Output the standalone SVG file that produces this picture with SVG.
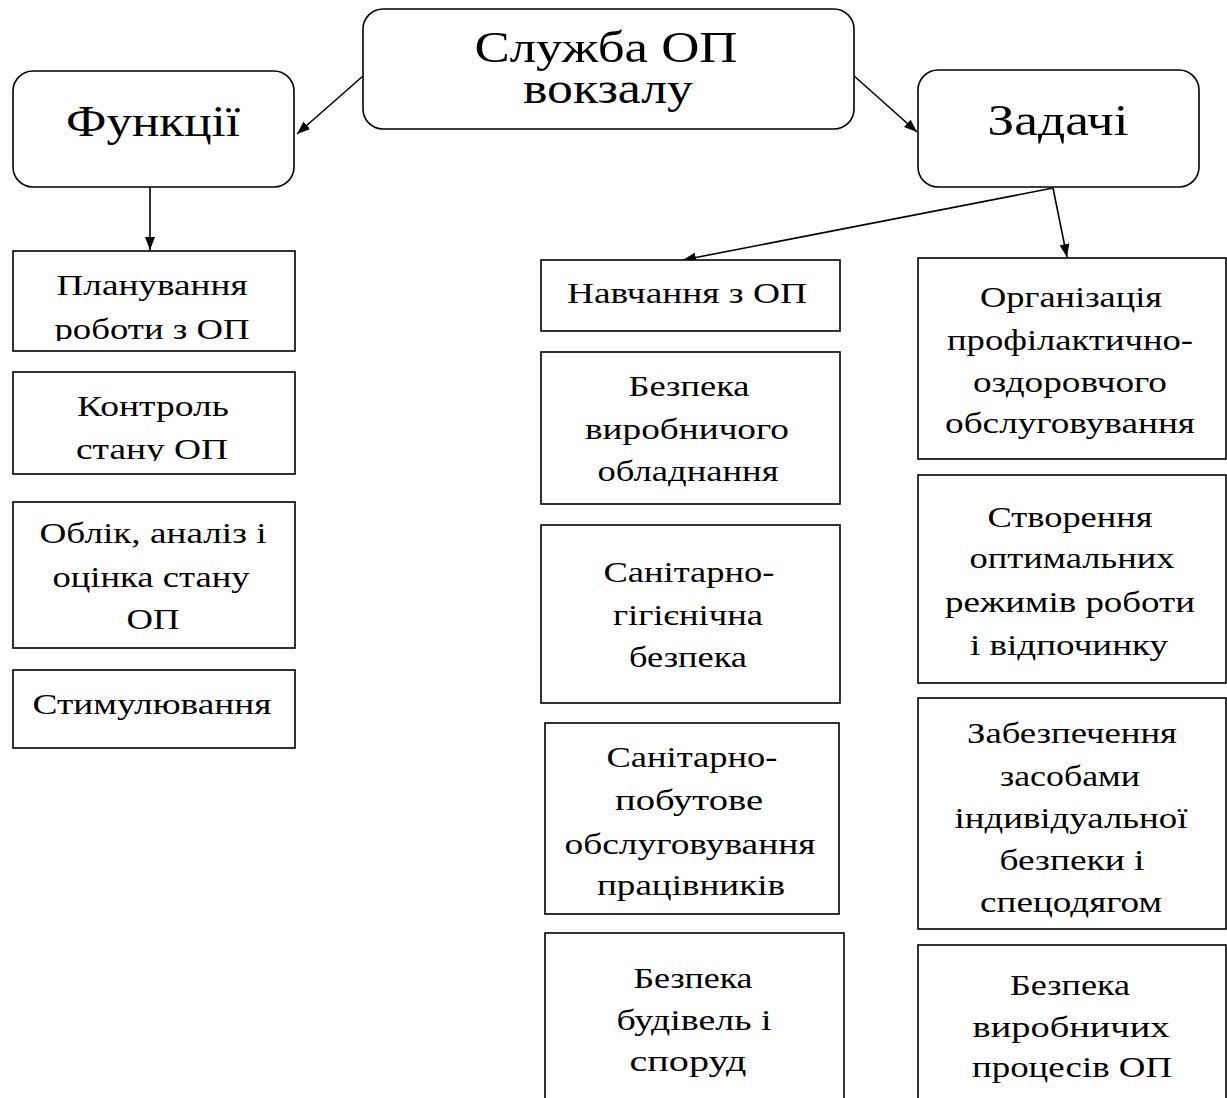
<svg xmlns="http://www.w3.org/2000/svg" width="1227" height="1098" viewBox="0 0 1227 1098">
<style>
.box{fill:#fff;stroke:#000;stroke-width:1.6}
.rbox{fill:#fff;stroke:#000;stroke-width:1.6}
.t{font-family:"Liberation Serif","DejaVu Serif",serif;font-size:30px;fill:#000;text-anchor:middle}
.tb{font-family:"Liberation Serif","DejaVu Serif",serif;font-size:44px;fill:#000;text-anchor:middle}
.c{fill:none;stroke:#000;stroke-width:1.6}
</style>
<defs>
<marker id="ah" markerUnits="userSpaceOnUse" markerWidth="14" markerHeight="10" refX="13" refY="5" orient="auto">
<path d="M0,0 L13,5 L0,10 z" fill="#000"/>
</marker>
<clipPath id="cl1"><rect x="13" y="251" width="282" height="90"/></clipPath>
<clipPath id="cl2"><rect x="13" y="372" width="282" height="89"/></clipPath>
</defs>
<rect width="1227" height="1098" fill="#fff"/>

<g id="connectors">
<line class="c" x1="363" y1="76" x2="297" y2="134" marker-end="url(#ah)"/>
<line class="c" x1="853" y1="75" x2="917" y2="132" marker-end="url(#ah)"/>
<line class="c" x1="150" y1="187" x2="150" y2="250" marker-end="url(#ah)"/>
<line class="c" x1="1053" y1="188" x2="683" y2="260" marker-end="url(#ah)"/>
<line class="c" x1="1053" y1="188" x2="1067" y2="257" marker-end="url(#ah)"/>
</g>

<g id="n-sluzhba">
<rect class="rbox" x="363" y="9" width="491" height="120" rx="20"/>
<text class="tb"><tspan x="606" y="62" textLength="263" lengthAdjust="spacingAndGlyphs">Служба ОП</tspan><tspan x="608" y="103" textLength="170" lengthAdjust="spacingAndGlyphs">вокзалу</tspan></text>
</g>

<g id="n-funktsii">
<rect class="rbox" x="13" y="71" width="281" height="116" rx="20"/>
<text class="tb"><tspan x="153" y="136" textLength="174" lengthAdjust="spacingAndGlyphs">Функції</tspan></text>
</g>

<g id="n-zadachi">
<rect class="rbox" x="918" y="70" width="281" height="117" rx="20"/>
<text class="tb"><tspan x="1058" y="135" textLength="141" lengthAdjust="spacingAndGlyphs">Задачі</tspan></text>
</g>

<g id="n-planuvannia">
<rect class="box" x="13" y="251" width="282" height="100"/>
<text class="t" clip-path="url(#cl1)"><tspan x="152" y="295" textLength="191" lengthAdjust="spacingAndGlyphs">Планування</tspan><tspan x="152" y="339" textLength="195" lengthAdjust="spacingAndGlyphs">роботи з ОП</tspan></text>
</g>

<g id="n-kontrol">
<rect class="box" x="13" y="372" width="282" height="102"/>
<text class="t" clip-path="url(#cl2)"><tspan x="153" y="416" textLength="152" lengthAdjust="spacingAndGlyphs">Контроль</tspan><tspan x="152" y="459" textLength="152" lengthAdjust="spacingAndGlyphs">стану ОП</tspan></text>
</g>

<g id="n-oblik">
<rect class="box" x="13" y="502" width="282" height="146"/>
<text class="t"><tspan x="153" y="543" textLength="227" lengthAdjust="spacingAndGlyphs">Облік, аналіз і</tspan><tspan x="151" y="587" textLength="197" lengthAdjust="spacingAndGlyphs">оцінка стану</tspan><tspan x="153" y="629" textLength="53" lengthAdjust="spacingAndGlyphs">ОП</tspan></text>
</g>

<g id="n-stymuliuvannia">
<rect class="box" x="13" y="670" width="282" height="78"/>
<text class="t"><tspan x="152" y="714" textLength="239" lengthAdjust="spacingAndGlyphs">Стимулювання</tspan></text>
</g>

<g id="n-navchannia">
<rect class="box" x="541" y="260" width="299" height="71"/>
<text class="t"><tspan x="687" y="303" textLength="240" lengthAdjust="spacingAndGlyphs">Навчання з ОП</tspan></text>
</g>

<g id="n-bezpeka-obladnannia">
<rect class="box" x="541" y="352" width="299" height="152"/>
<text class="t"><tspan x="689" y="396" textLength="121" lengthAdjust="spacingAndGlyphs">Безпека</tspan><tspan x="687" y="439" textLength="204" lengthAdjust="spacingAndGlyphs">виробничого</tspan><tspan x="688" y="481" textLength="181" lengthAdjust="spacingAndGlyphs">обладнання</tspan></text>
</g>

<g id="n-sanitarno-hihienichna">
<rect class="box" x="541" y="525" width="299" height="178"/>
<text class="t"><tspan x="689" y="582" textLength="171" lengthAdjust="spacingAndGlyphs">Санітарно-</tspan><tspan x="688" y="625" textLength="150" lengthAdjust="spacingAndGlyphs">гігієнічна</tspan><tspan x="688" y="667" textLength="118" lengthAdjust="spacingAndGlyphs">безпека</tspan></text>
</g>

<g id="n-sanitarno-pobutove">
<rect class="box" x="545" y="723" width="294" height="191"/>
<text class="t"><tspan x="692" y="767" textLength="171" lengthAdjust="spacingAndGlyphs">Санітарно-</tspan><tspan x="689" y="810" textLength="148" lengthAdjust="spacingAndGlyphs">побутове</tspan><tspan x="690" y="854" textLength="251" lengthAdjust="spacingAndGlyphs">обслуговування</tspan><tspan x="691" y="895" textLength="188" lengthAdjust="spacingAndGlyphs">працівників</tspan></text>
</g>

<g id="n-bezpeka-budivel">
<rect class="box" x="545" y="933" width="299" height="180"/>
<text class="t"><tspan x="693" y="988" textLength="119" lengthAdjust="spacingAndGlyphs">Безпека</tspan><tspan x="694" y="1030" textLength="155" lengthAdjust="spacingAndGlyphs">будівель і</tspan><tspan x="688" y="1071" textLength="117" lengthAdjust="spacingAndGlyphs">споруд</tspan></text>
</g>

<g id="n-orhanizatsiia">
<rect class="box" x="918" y="258" width="308" height="201"/>
<text class="t"><tspan x="1071" y="307" textLength="182" lengthAdjust="spacingAndGlyphs">Організація</tspan><tspan x="1070" y="350" textLength="246" lengthAdjust="spacingAndGlyphs">профілактично-</tspan><tspan x="1070" y="392" textLength="194" lengthAdjust="spacingAndGlyphs">оздоровчого</tspan><tspan x="1070" y="433" textLength="250" lengthAdjust="spacingAndGlyphs">обслуговування</tspan></text>
</g>

<g id="n-stvorennia">
<rect class="box" x="918" y="475" width="308" height="208"/>
<text class="t"><tspan x="1070" y="527" textLength="165" lengthAdjust="spacingAndGlyphs">Створення</tspan><tspan x="1072" y="568" textLength="205" lengthAdjust="spacingAndGlyphs">оптимальних</tspan><tspan x="1070" y="612" textLength="250" lengthAdjust="spacingAndGlyphs">режимів роботи</tspan><tspan x="1069" y="655" textLength="198" lengthAdjust="spacingAndGlyphs">і відпочинку</tspan></text>
</g>

<g id="n-zabezpechennia">
<rect class="box" x="918" y="698" width="308" height="231"/>
<text class="t"><tspan x="1072" y="743" textLength="210" lengthAdjust="spacingAndGlyphs">Забезпечення</tspan><tspan x="1070" y="786" textLength="140" lengthAdjust="spacingAndGlyphs">засобами</tspan><tspan x="1071" y="828" textLength="233" lengthAdjust="spacingAndGlyphs">індивідуальної</tspan><tspan x="1072" y="870" textLength="145" lengthAdjust="spacingAndGlyphs">безпеки і</tspan><tspan x="1071" y="912" textLength="182" lengthAdjust="spacingAndGlyphs">спецодягом</tspan></text>
</g>

<g id="n-bezpeka-protsesiv">
<rect class="box" x="918" y="945" width="308" height="168"/>
<text class="t"><tspan x="1070" y="995" textLength="120" lengthAdjust="spacingAndGlyphs">Безпека</tspan><tspan x="1071" y="1037" textLength="197" lengthAdjust="spacingAndGlyphs">виробничих</tspan><tspan x="1072" y="1077" textLength="200" lengthAdjust="spacingAndGlyphs">процесів ОП</tspan></text>
</g>
</svg>
